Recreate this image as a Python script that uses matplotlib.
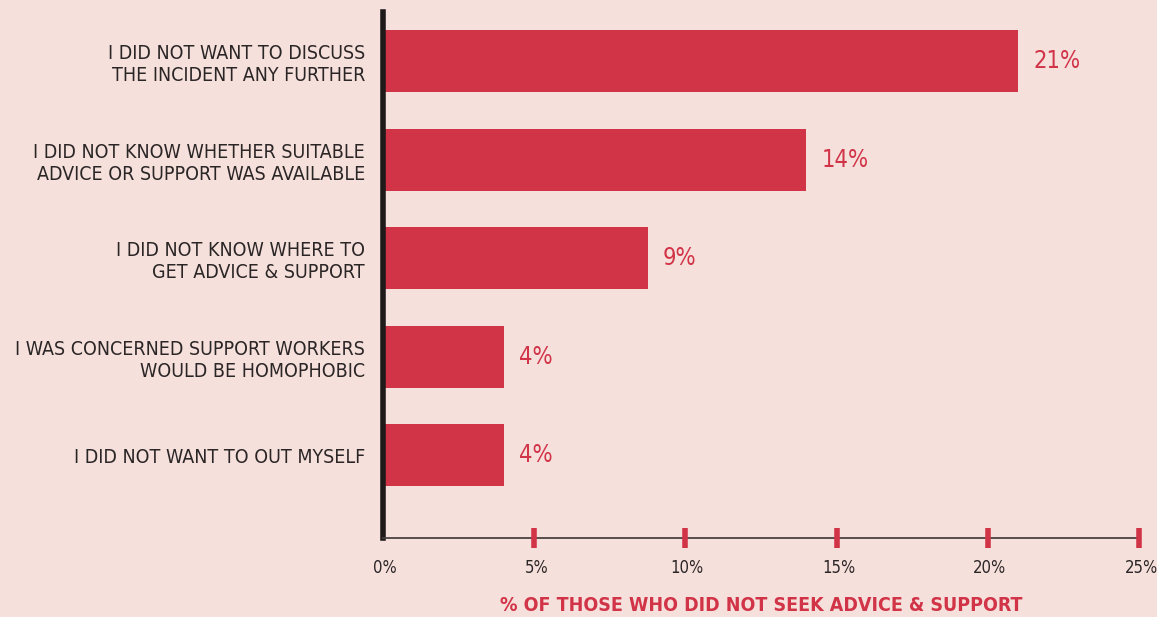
import matplotlib.pyplot as plt
from matplotlib.transforms import ScaledTranslation

reasons = [
    "I DID NOT WANT TO DISCUSS\nTHE INCIDENT ANY FURTHER",
    "I DID NOT KNOW WHETHER SUITABLE\nADVICE OR SUPPORT WAS AVAILABLE",
    "I DID NOT KNOW WHERE TO\nGET ADVICE & SUPPORT",
    "I WAS CONCERNED SUPPORT WORKERS\nWOULD BE HOMOPHOBIC",
    "I DID NOT WANT TO OUT MYSELF",
]
shares = [21, 14, 8.75, 4, 4]
share_labels = ["21%", "14%", "9%", "4%", "4%"]
xticks = [0, 5, 10, 15, 20, 25]

bg = "#f6e0dc"
red = "#d13347"
dark = "#2b2626"
plt.rcParams['font.family'] = ['DejaVu Sans']
plt.rcParams['font.stretch'] = 'condensed'

fig = plt.figure(figsize=(11.57, 6.17), dpi=100, facecolor=bg)
ax = fig.add_axes([383/1157, 1 - 538/617, (1139 - 383)/1157, (538 - 12)/617])
ax.set_facecolor(bg)

pos = list(range(len(reasons)))
ax.barh(pos, shares, height=0.63, color=red)
for p, v, t in zip(pos, shares, share_labels):
    ax.text(v + 0.5, p, t, va='center', ha='left', color=red, fontsize=17,
            fontstretch='condensed')

ax.set_xlim(0, 25)
ax.set_ylim(4.84, -0.5)
ax.set_yticks(pos)
ax.set_yticklabels(reasons, fontsize=14, color=dark, linespacing=1.2,
                   fontstretch='condensed')
ax.tick_params(axis='y', length=0, pad=13)

ax.set_xticks(xticks)
ax.set_xticklabels([f"{x}%" for x in xticks], fontsize=12, color=dark,
                   fontstretch='condensed')
ax.tick_params(axis='x', length=0, pad=15)
shift = ScaledTranslation(2/100, 0, fig.dpi_scale_trans)
for lbl in ax.get_xticklabels():
    lbl.set_transform(lbl.get_transform() + shift)
# red tick marks straddling the axis line
ax.plot(xticks[1:], [4.84] * 5, linestyle='none', marker='|', markersize=14,
        markeredgewidth=4, color=red, clip_on=False, zorder=5)

for s in ['top', 'right']:
    ax.spines[s].set_visible(False)
ax.spines['left'].set_linewidth(4)
ax.spines['left'].set_color('#1e1a1a')
ax.spines['bottom'].set_linewidth(1.3)
ax.spines['bottom'].set_color('#4a4242')

ax.set_xlabel("% OF THOSE WHO DID NOT SEEK ADVICE & SUPPORT", fontsize=14,
              fontweight='bold', color=red, labelpad=14, fontstretch='condensed')

fig.savefig("out.png", dpi=100, facecolor=bg)
